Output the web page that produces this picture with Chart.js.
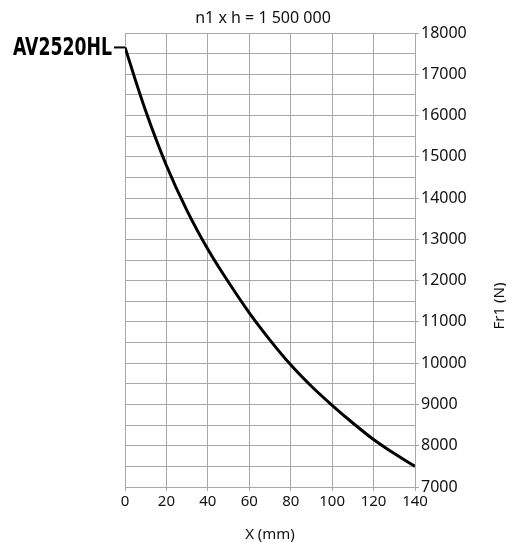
<!DOCTYPE html>
<html>
<head>
<meta charset="utf-8">
<script src="https://cdn.jsdelivr.net/npm/chart.js@4"></script>
<style>
html,body{margin:0;padding:0;background:#fff;}
#wrap{width:506px;height:544px;position:relative;}
</style>
</head>
<body>
<div id="wrap"><canvas id="c" width="506" height="544"></canvas></div>
<script>
const xValues = [0, 10, 20, 30, 40, 50, 60, 70, 80, 90, 100, 110, 120, 130, 140];
const fr1Values = [17650, 16110, 14790, 13690, 12760, 11960, 11220, 10560, 9960, 9440, 8980, 8550, 8150, 7810, 7500];
const seriesLabel = 'AV2520HL';
const chartTitle = 'n1 x h = 1 500 000';
const xTitle = 'X (mm)';
const yTitle = 'Fr1 (N)';
const xRange = [0, 140];
const yRange = [7000, 18000];

const FONT = '"Noto Sans", "Open Sans", sans-serif';
const GRID = '#a8a8a8';

const overlay = {
  id: 'overlay',
  afterDraw(chart) {
    const ctx = chart.ctx;
    const xs = chart.scales.x, ys = chart.scales.y;
    const a = chart.chartArea;
    ctx.save();
    ctx.fillStyle = '#111';
    ctx.font = '16px ' + FONT;
    ctx.textAlign = 'center';
    ctx.textBaseline = 'middle';
    ctx.fillText(chartTitle, 263, 18);
    ctx.font = '15px ' + FONT;
    ctx.fillText(xTitle, (a.left + a.right) / 2, 535);
    ctx.save();
    ctx.translate(500, 306);
    ctx.rotate(-Math.PI / 2);
    ctx.font = '15px ' + FONT;
    ctx.fillText(yTitle, 0, 0);
    ctx.restore();
    const px = xs.getPixelForValue(xValues[0]);
    const py = ys.getPixelForValue(fr1Values[0]);
    ctx.strokeStyle = '#000';
    ctx.lineWidth = 2;
    ctx.beginPath();
    ctx.moveTo(px - 11, py);
    ctx.lineTo(px, py);
    ctx.stroke();
    ctx.font = 'bold 24px "Liberation Sans Narrow", "DejaVu Sans Condensed", sans-serif';
    const w = ctx.measureText(seriesLabel).width;
    const target = 99;
    ctx.save();
    ctx.translate(px - 13, py + 1);
    ctx.scale(target / w, 1);
    ctx.textAlign = 'right';
    ctx.textBaseline = 'middle';
    ctx.fillStyle = '#000';
    ctx.fillText(seriesLabel, 0, 0);
    ctx.restore();
    ctx.restore();
  }
};

new Chart(document.getElementById('c'), {
  type: 'line',
  data: {
    datasets: [{
      label: seriesLabel,
      data: xValues.map((x, i) => ({x: x, y: fr1Values[i]})),
      borderColor: '#000',
      borderWidth: 3,
      pointRadius: 0,
      tension: 0.4,
      fill: false
    }]
  },
  options: {
    responsive: false,
    animation: false,
    layout: {padding: {left: 125, top: 33, right: 0, bottom: 0}},
    plugins: {legend: {display: false}, tooltip: {enabled: false}, title: {display: false}},
    scales: {
      x: {
        type: 'linear',
        min: xRange[0], max: xRange[1],
        afterFit(s) { s.height = 57; },
        grid: {color: GRID, lineWidth: 1, tickLength: 4, tickColor: GRID},
        border: {color: GRID},
        ticks: {stepSize: 20, color: '#111', font: {family: FONT, size: 15}, padding: 2, maxRotation: 0, autoSkip: false}
      },
      y: {
        type: 'linear',
        position: 'right',
        min: yRange[0], max: yRange[1],
        afterFit(s) { s.width = 91; },
        grid: {
          color: GRID, lineWidth: 1, tickLength: 4,
          tickColor: c => (c.tick && c.tick.value % 1000 === 0) ? GRID : 'rgba(0,0,0,0)'
        },
        border: {color: GRID},
        ticks: {
          stepSize: 500, autoSkip: false, color: '#111', font: {family: FONT, size: 16}, padding: 2,
          callback: v => (v % 1000 === 0 ? String(v) : '')
        }
      }
    }
  },
  plugins: [overlay]
});
</script>
</body>
</html>
